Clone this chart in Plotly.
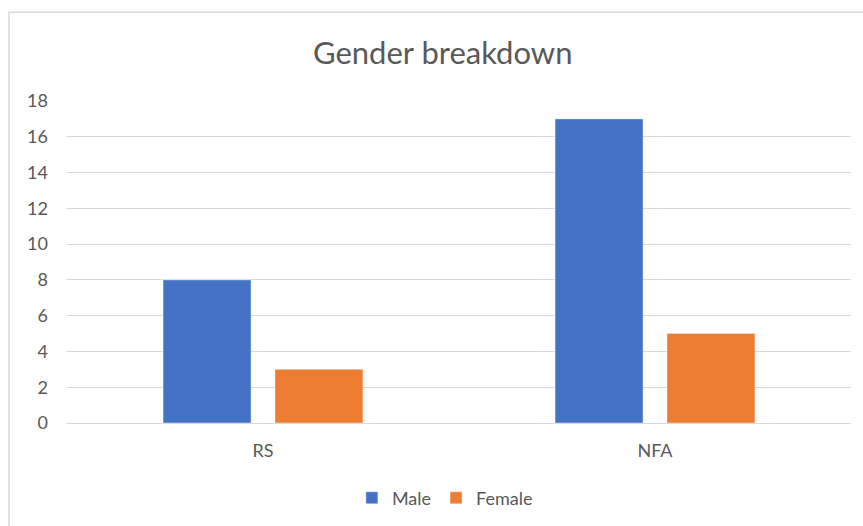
import plotly.graph_objects as go

categories = ["RS", "NFA"]
male = [8, 17]
female = [3, 5]

font_family = "Lato, 'Open Sans', sans-serif"
text_color = "#595959"

fig = go.Figure()
fig.add_trace(go.Bar(x=categories, y=male, name="Male", marker_color="#4472C4"))
fig.add_trace(go.Bar(x=categories, y=female, name="Female", marker_color="#ED7D31"))

fig.update_layout(
    width=863,
    height=526,
    margin=dict(l=67, r=12, t=101, b=103),
    paper_bgcolor="white",
    plot_bgcolor="white",
    barmode="group",
    bargap=0.429,
    bargroupgap=0.214,
    font=dict(family=font_family, color=text_color, size=18),
    title=dict(
        text="Gender breakdown",
        x=0.513,
        xanchor="center",
        y=0.899,
        yanchor="middle",
        font=dict(size=31, color=text_color),
    ),
    legend=dict(
        orientation="h",
        x=0.482,
        xanchor="center",
        yref="container",
        y=0.053,
        yanchor="middle",
        font=dict(size=18),
        itemwidth=30,
    ),
    xaxis=dict(
        showgrid=False,
        showline=False,
        ticks="",
        ticklabelstandoff=15,
        automargin=False,
    ),
    yaxis=dict(
        range=[0, 18],
        dtick=2,
        showgrid=True,
        gridcolor="#d9d9d9",
        gridwidth=1,
        zeroline=True,
        zerolinecolor="#d9d9d9",
        zerolinewidth=1,
        showline=False,
        ticks="",
        ticklabelstandoff=18,
        automargin=False,
    ),
    shapes=[
        dict(
            type="rect",
            xref="paper",
            yref="paper",
            x0=-0.074,
            x1=1.05,
            y0=-0.4,
            y1=1.276,
            line=dict(color="#d9d9d9", width=1.5),
            fillcolor="rgba(0,0,0,0)",
            layer="below",
        )
    ],
)

fig.write_html(
    "out.html",
    config={"displayModeBar": False},
    post_script="document.body.style.margin='0';",
)
